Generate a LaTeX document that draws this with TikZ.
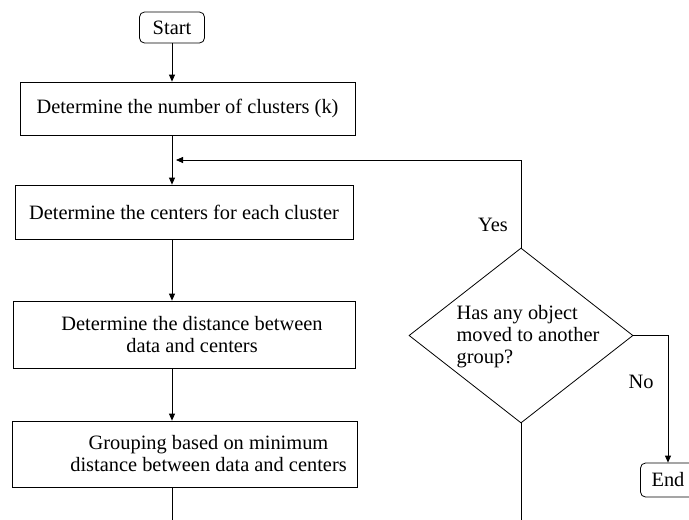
\documentclass[tikz,border=0pt]{standalone}
\usepackage{fontspec}
\setmainfont{Liberation Serif}
\usetikzlibrary{shapes,arrows,arrows.meta}

\begin{document}
\begin{tikzpicture}[x=1pt,y=-1pt,
  font=\fontsize{20.4}{22}\selectfont,
  every node/.style={inner sep=0pt},
  terminal/.style={draw,rounded corners=5pt,line width=0.8pt},
  process/.style={draw,rectangle,align=center,line width=0.8pt},
  decision/.style={draw,diamond,aspect=1.28,align=left,line width=0.8pt},
  flow/.style={-{Triangle[length=7pt,width=6pt]},line width=0.8pt}]
\useasboundingbox (0,0) rectangle (689,520);
\node[terminal,minimum width=65pt,minimum height=31pt] (start) at (172,27.5) {Start};
\node[process,minimum width=335pt,minimum height=53pt] (count) at (187.5,108.5) {Determine the number of clusters (k)};
\node[process,minimum width=338pt,minimum height=54pt] (centers) at (184,212) {Determine the centers for each cluster};
\node[process,minimum width=342pt,minimum height=67pt,
  label={[align=center,xshift=8pt]center:Determine the distance between\\data and centers}] (distance) at (184,334.5) {};
\node[process,minimum width=345pt,minimum height=66pt,
  label={[align=center,xshift=24pt]center:Grouping based on minimum\\distance between data and centers}] (group) at (184.5,454) {};
\node[decision,minimum width=224pt,minimum height=175pt,
  label={[align=left,xshift=7pt,yshift=-1pt]center:Has any object\\moved to another\\group?}] (check) at (521,335.5) {};
\node[terminal,minimum width=55pt,minimum height=34pt] (done) at (668,480) {End};
\node (yes) at (493,225) {Yes};
\node (no) at (641,382) {No};
\coordinate (merge) at (176,160);
\coordinate (gout) at (172,520);
\coordinate (dout) at (521,520);
\draw[flow] (start) -- (start |- count.north);
\draw[flow] (count.south -| start) -- (start |- centers.north);
\draw[flow] (centers.south -| start) -- (start |- distance.north);
\draw[flow] (distance.south -| start) -- (start |- group.north);
\draw[line width=0.8pt] (group.south -| start) -- (gout);
\draw[line width=0.8pt] (check.south) -- (dout);
\draw[flow] (check.north) |- (merge);
\draw[flow] (check.east) -| (done.north);
\end{tikzpicture}
\end{document}
